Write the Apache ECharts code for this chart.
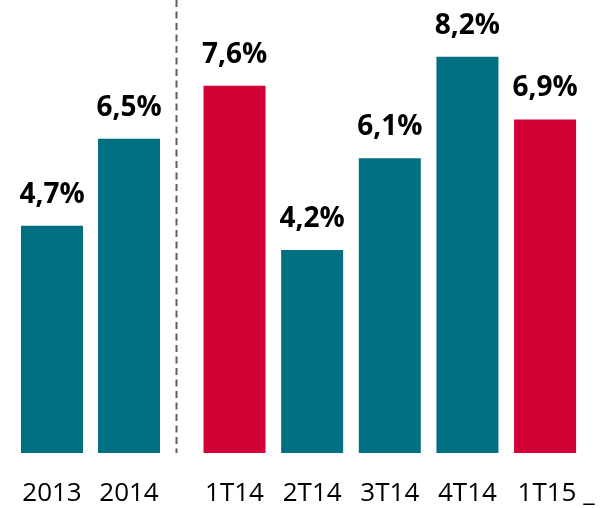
<!DOCTYPE html>
<html>
<head>
<meta charset="utf-8">
<script src="https://cdn.jsdelivr.net/npm/echarts@6/dist/echarts.min.js"></script>
<style>
html,body{margin:0;padding:0;background:#fff;}
#chart{width:601px;height:508px;}
</style>
</head>
<body>
<div id="chart"></div>
<script>
const annualCats = ['2013', '2014'];
const annualVals = [4.7, 6.5];
const quarterCats = ['1T14', '2T14', '3T14', '4T14', '1T15'];
const quarterVals = [7.6, 4.2, 6.1, 8.2, 6.9];
const yMax = 9;

const TEAL = '#007082';
const RED = '#D20035';
const FONT = '"Open Sans", "Noto Sans", sans-serif';

const fmt = p => p.value.toFixed(1).replace('.', ',') + '%';
const valueLabel = {
  show: true, position: 'top', distance: 17,
  formatter: fmt, color: '#000', fontFamily: FONT, fontWeight: 'bold', fontSize: 28
};
const axisLabel = { color: '#000', fontFamily: FONT, fontSize: 26, margin: 28, interval: 0, hideOverlap: false };

const chart = echarts.init(document.getElementById('chart'), null, { renderer: 'canvas' });
chart.setOption({
  animation: false,
  backgroundColor: '#fff',
  grid: [
    { left: 13.5, right: 433.5, top: 18, bottom: 55 },
    { left: 195.7, right: 17.1, top: 18, bottom: 55 }
  ],
  xAxis: [
    { type: 'category', gridIndex: 0, data: annualCats, axisLine: { show: false }, axisTick: { show: false }, axisLabel },
    { type: 'category', gridIndex: 1,
      data: quarterCats.map((c, i) => i === quarterCats.length - 1
        ? { value: c + ' _', textStyle: { padding: [0, 0, 0, 22] } } : c),
      axisLine: { show: false }, axisTick: { show: false }, axisLabel }
  ],
  yAxis: [
    { type: 'value', gridIndex: 0, min: 0, max: yMax, show: false },
    { type: 'value', gridIndex: 1, min: 0, max: yMax, show: false }
  ],
  graphic: [{
    type: 'line', silent: true,
    shape: { x1: 176.5, y1: 0, x2: 176.5, y2: 453 },
    style: { stroke: '#5f5f5f', lineWidth: 2, lineDash: [7, 4.5] }
  }],
  series: [
    { type: 'bar', xAxisIndex: 0, yAxisIndex: 0, barWidth: 62,
      data: annualVals, itemStyle: { color: TEAL }, label: valueLabel },
    { type: 'bar', xAxisIndex: 1, yAxisIndex: 1, barWidth: 62,
      data: quarterVals.map((v, i) => ({ value: v, itemStyle: { color: quarterCats[i].startsWith('1T') ? RED : TEAL } })),
      label: valueLabel }
  ]
});
</script>
</body>
</html>
